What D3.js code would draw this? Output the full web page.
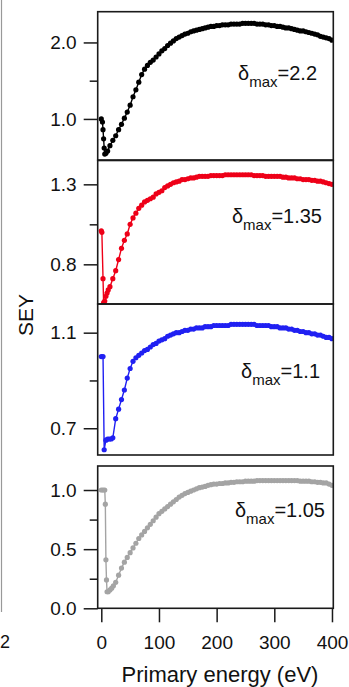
<!DOCTYPE html>
<html>
<head>
<meta charset="utf-8">
<script src="https://cdn.jsdelivr.net/npm/d3@7"></script>
<style>
  body { margin: 0; background: #fff; }
  text { font-family: "Liberation Sans", Arial, sans-serif; fill: #111; }
</style>
</head>
<body>
<div class="chart"></div>
<script>
// Energies above 20 eV (same grid in every panel)
const energyHigh = [25,30,35,40,45,50,55,60,65,70,75,80,85,90,95,100,105,110,115,120,
  125,130,135,140,145,150,155,160,165,170,175,180,185,190,195,200,205,210,215,220,
  225,230,235,240,245,250,255,260,265,270,275,280,285,290,295,300,305,310,315,320,
  325,330,335,340,345,350,355,360,365,370,375,380,385,390,395,400];

// Black sample (delta max = 2.2)
const energyBlack = [0,2,3,4,5,6,8,11,15,20].concat(energyHigh);
const seyBlack = [1.00,0.96,0.86,0.74,0.62,0.54,0.55,0.58,0.65,0.72,
  0.78,0.86,0.93,1.01,1.09,1.18,1.29,1.38,1.48,1.58,
  1.65,1.70,1.74,1.77,1.81,1.85,1.89,1.92,1.96,1.99,
  2.02,2.05,2.07,2.09,2.11,2.12,2.14,2.15,2.16,2.17,
  2.18,2.19,2.20,2.21,2.21,2.22,2.22,2.23,2.23,2.23,
  2.24,2.24,2.24,2.24,2.25,2.25,2.25,2.25,2.25,2.24,
  2.24,2.24,2.23,2.23,2.22,2.22,2.21,2.21,2.20,2.19,
  2.19,2.18,2.17,2.16,2.15,2.15,2.14,2.13,2.12,2.11,
  2.10,2.08,2.07,2.06,2.05,2.03];

// Red sample (delta max = 1.35)
const energyRed = [0,1,3,4,6,8,10,12,15,20].concat(energyHigh);
const seyRed = [1.01,1.00,0.71,0.56,0.57,0.60,0.62,0.64,0.66,0.71,
  0.76,0.83,0.90,0.95,0.99,1.05,1.09,1.12,1.15,1.17,
  1.19,1.20,1.21,1.22,1.24,1.25,1.26,1.28,1.29,1.30,
  1.31,1.315,1.32,1.33,1.33,1.335,1.34,1.34,1.345,1.35,
  1.35,1.35,1.35,1.355,1.355,1.355,1.355,1.355,1.36,1.36,
  1.36,1.36,1.36,1.36,1.36,1.36,1.36,1.36,1.355,1.355,
  1.355,1.355,1.35,1.35,1.35,1.35,1.35,1.35,1.345,1.345,
  1.34,1.34,1.34,1.335,1.335,1.33,1.33,1.33,1.325,1.325,
  1.32,1.32,1.315,1.31,1.305,1.30];

// Blue sample (delta max = 1.1)
const energyBlue = [0,3,5,8,11,14,17,20].concat(energyHigh);
const seyBlue = [1.00,1.00,0.61,0.65,0.655,0.655,0.655,0.66,
  0.74,0.78,0.82,0.86,0.91,0.95,0.98,0.995,1.005,1.015,
  1.025,1.03,1.04,1.05,1.055,1.065,1.07,1.075,1.085,1.09,
  1.095,1.10,1.10,1.105,1.11,1.11,1.115,1.115,1.12,1.12,
  1.12,1.125,1.125,1.125,1.13,1.13,1.13,1.13,1.13,1.13,
  1.135,1.135,1.135,1.135,1.135,1.135,1.135,1.135,1.135,1.13,
  1.13,1.13,1.13,1.13,1.125,1.125,1.125,1.12,1.12,1.12,
  1.115,1.115,1.11,1.11,1.105,1.105,1.10,1.10,1.095,1.095,
  1.09,1.09,1.085,1.08,1.08,1.075];

// Gray sample (delta max = 1.05)
const energyGray = [0,3,6,7,8,9,10,12,15,18,21].concat(energyHigh);
const seyGray = [1.00,1.00,1.00,0.88,0.41,0.24,0.14,0.14,0.155,0.17,0.19,
  0.22,0.28,0.34,0.39,0.43,0.47,0.51,0.55,0.59,0.62,
  0.65,0.68,0.71,0.74,0.77,0.80,0.82,0.84,0.86,0.88,
  0.90,0.92,0.94,0.955,0.97,0.98,0.99,1.00,1.01,1.02,
  1.025,1.03,1.04,1.045,1.05,1.05,1.055,1.055,1.06,1.06,
  1.065,1.065,1.07,1.07,1.07,1.075,1.075,1.075,1.075,1.08,
  1.08,1.08,1.08,1.08,1.08,1.08,1.08,1.08,1.08,1.08,
  1.08,1.08,1.08,1.08,1.075,1.075,1.075,1.075,1.07,1.07,
  1.065,1.065,1.06,1.06,1.05,1.04];

const xTicks = [0, 100, 200, 300, 400];
const labels = ["2.2", "1.35", "1.1", "1.05"];

const svgWidth = 349, svgHeight = 687;
const plotLeft = 97.7, plotRight = 333.3;

const panels = [
  { e: energyBlack, v: seyBlack, color: "#000000", top: 11.7, bottom: 160, domain: [0.463, 2.402],
    major: [1.0, 2.0], minor: [1.5], lx: 317, ly: 80 },
  { e: energyRed, v: seyRed, color: "#ee0018", top: 160.5, bottom: 304, domain: [0.552, 1.449],
    major: [0.8, 1.3], minor: [1.05], lx: 322, ly: 223 },
  { e: energyBlue, v: seyBlue, color: "#2020f2", top: 304, bottom: 455, domain: [0.588, 1.220],
    major: [0.7, 1.1], minor: [0.9], lx: 320, ly: 378 },
  { e: energyGray, v: seyGray, color: "#a4a4a4", top: 466, bottom: 608.3, domain: [0, 1.203],
    major: [0.0, 0.5, 1.0], minor: [0.25, 0.75], lx: 325, ly: 517 }
];

const svg = d3.select(".chart")
  .append("svg")
  .attr("width", svgWidth)
  .attr("height", svgHeight);

const x = d3.scaleLinear()
  .domain([-6.24, 402.3])
  .range([plotLeft, plotRight]);

// leftover edge of the neighbouring figure
svg.append("line")
  .attr("x1", 1.5).attr("x2", 1.5)
  .attr("y1", 0).attr("y2", 612)
  .attr("stroke", "#999").attr("stroke-width", 1.2);
svg.append("text")
  .attr("x", 0).attr("y", 648)
  .attr("font-size", 18)
  .text("2");

panels.forEach((p, i) => {
  const y = d3.scaleLinear().domain(p.domain).range([p.bottom, p.top]);
  const g = svg.append("g");

  const clipId = "clip" + i;
  svg.append("clipPath").attr("id", clipId)
    .append("rect")
    .attr("x", plotLeft).attr("y", p.top)
    .attr("width", plotRight - plotLeft).attr("height", p.bottom - p.top);

  const pts = p.e.map((e, j) => [e, p.v[j]]);
  const data = g.append("g").attr("clip-path", `url(#${clipId})`);

  data.append("path")
    .datum(pts)
    .attr("fill", "none")
    .attr("stroke", p.color)
    .attr("stroke-width", 1.4)
    .attr("d", d3.line().x(d => x(d[0])).y(d => y(d[1])));

  data.selectAll("circle")
    .data(pts)
    .enter()
    .append("circle")
    .attr("cx", d => x(d[0]))
    .attr("cy", d => y(d[1]))
    .attr("r", 2.6)
    .attr("fill", p.color);

  // frame
  g.append("rect")
    .attr("x", plotLeft).attr("y", p.top)
    .attr("width", plotRight - plotLeft).attr("height", p.bottom - p.top)
    .attr("fill", "none")
    .attr("stroke", "#1a1a1a")
    .attr("stroke-width", 1.6);

  // y axis
  const yAxis = g.append("g")
    .attr("transform", `translate(${plotLeft},0)`)
    .call(d3.axisLeft(y).tickValues(p.major).tickSize(14).tickPadding(7).tickFormat(d3.format(".1f")));
  const yMinor = g.append("g")
    .attr("transform", `translate(${plotLeft},0)`)
    .call(d3.axisLeft(y).tickValues(p.minor).tickSize(8).tickFormat(""));
  [yAxis, yMinor].forEach(a => {
    a.select(".domain").remove();
    a.selectAll("line").attr("stroke", "#1a1a1a").attr("stroke-width", 1.5);
    a.selectAll("text").attr("font-size", 19).attr("fill", "#111")
      .attr("font-family", "'Liberation Sans', Arial, sans-serif");
  });

  // delta max label
  const t = g.append("text")
    .attr("x", p.lx).attr("y", p.ly)
    .attr("text-anchor", "end")
    .attr("font-size", 20);
  t.append("tspan").text("δ");
  t.append("tspan").attr("font-size", 15).attr("dy", 7).text("max");
  t.append("tspan").attr("dy", -7).text("=" + labels[i]);

  if (i === panels.length - 1) {
    const xAxis = svg.append("g")
      .attr("transform", `translate(0,${p.bottom})`)
      .call(d3.axisBottom(x).tickValues(xTicks).tickSize(14).tickPadding(13));
    xAxis.select(".domain").remove();
    xAxis.selectAll("line").attr("stroke", "#1a1a1a").attr("stroke-width", 1.5);
    xAxis.selectAll("text").attr("font-size", 19).attr("fill", "#111")
      .attr("font-family", "'Liberation Sans', Arial, sans-serif");
  }
});

// axis titles
svg.append("text")
  .attr("x", 220).attr("y", 682)
  .attr("text-anchor", "middle")
  .attr("font-size", 22)
  .text("Primary energy (eV)");

svg.append("text")
  .attr("transform", "translate(33,315) rotate(-90)")
  .attr("text-anchor", "middle")
  .attr("font-size", 21)
  .text("SEY");
</script>
</body>
</html>
